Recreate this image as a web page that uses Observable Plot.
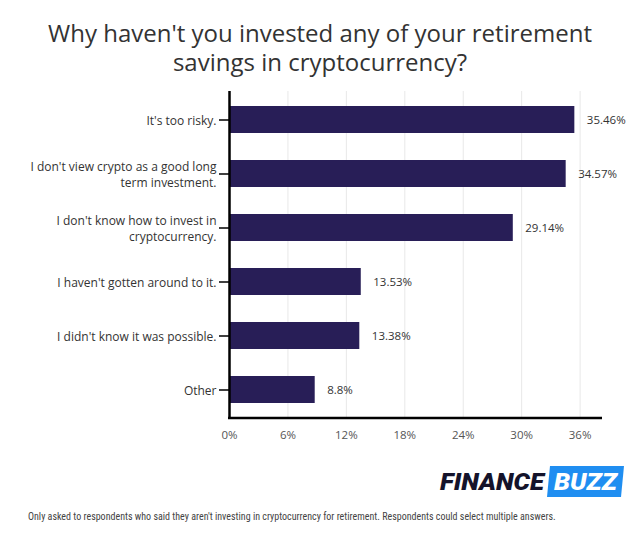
<!DOCTYPE html>
<html>
<head>
<meta charset="utf-8">
<script src="https://cdn.jsdelivr.net/npm/d3@7"></script>
<script src="https://cdn.jsdelivr.net/npm/@observablehq/plot@0.6"></script>
<style>
  body { margin: 0; background: #fff; width: 640px; height: 550px; overflow: hidden; font-family: "Open Sans", sans-serif; }
  #title { position: absolute; top: 18px; left: 0; width: 640px; text-align: center; font-size: 24px; line-height: 29px; color: #333; }
  #chart { position: absolute; top: 80px; left: 0; }
  #logo { position: absolute; top: 466px; left: 438px; height: 31px; display: flex; align-items: center; }
  #footer { position: absolute; top: 511px; left: 28px; font-family: "Liberation Sans Narrow", "Roboto Condensed", Roboto, sans-serif; font-size: 10px; color: #444; white-space: nowrap; }
</style>
</head>
<body>
<div id="title">Why haven't you invested any of your retirement<br>savings in cryptocurrency?</div>
<div id="chart"></div>
<div id="logo"></div>
<div id="footer">Only asked to respondents who said they aren't investing in cryptocurrency for retirement. Respondents could select multiple answers.</div>
<script>
const categories = [
  "It's too risky.",
  "I don't view crypto as a good long term investment.",
  "I don't know how to invest in cryptocurrency.",
  "I haven't gotten around to it.",
  "I didn't know it was possible.",
  "Other"
];
const tickLabels = [
  "It's too risky.",
  "I don't view crypto as a good long\nterm investment.",
  "I don't know how to invest in\ncryptocurrency.",
  "I haven't gotten around to it.",
  "I didn't know it was possible.",
  "Other"
];
const values = [35.46, 34.57, 29.14, 13.53, 13.38, 8.8];
const valueLabels = ["35.46%", "34.57%", "29.14%", "13.53%", "13.38%", "8.8%"];
const xTicks = [0, 6, 12, 18, 24, 30, 36];

const data = categories.map((c, i) => ({cat: c, value: values[i], label: valueLabels[i]}));
const labelOf = new Map(categories.map((c, i) => [c, tickLabels[i]]));
const xMax = 38.3;

const plot = Plot.plot({
  width: 640,
  height: 368,
  marginTop: 11,
  marginBottom: 30,
  marginLeft: 229,
  marginRight: 38,
  style: { fontFamily: "Open Sans, sans-serif", fontSize: "12px", color: "#333", background: "transparent" },
  x: { domain: [0, xMax], ticks: xTicks, tickFormat: d => d + "%", label: null },
  y: { domain: categories, paddingInner: 0.5, paddingOuter: 0.25, label: null },
  marks: [
    Plot.gridX(xTicks, { stroke: "#e8e8e8", strokeOpacity: 1 }),
    Plot.barX(data, { x: "value", y: "cat", fill: "#281e57" }),
    Plot.text(data, { x: "value", y: "cat", text: "label", dx: 12, textAnchor: "start", fill: "#333", fontSize: 11.5 }),
    Plot.axisX({ ticks: xTicks, tickFormat: d => d + "%", tickSize: 0, tickPadding: 12, fill: "#555", fontSize: 11.5 }),
    Plot.axisY({ tickSize: 10, tickPadding: 3, tickFormat: d => labelOf.get(d), fill: "#333", fontSize: 12, lineHeight: 1.35, stroke: "#000", strokeWidth: 1.5 }),
    Plot.ruleX([0], { stroke: "#000", strokeWidth: 2.5 })
  ]
});
document.getElementById("chart").appendChild(plot);

// bottom axis line
const svg = d3.select(plot);
const xs = plot.scale("x");
svg.append("line")
  .attr("x1", xs.apply(0) - 1).attr("x2", xs.apply(xMax))
  .attr("y1", 368 - 30).attr("y2", 368 - 30)
  .attr("stroke", "#000").attr("stroke-width", 2.5);

// logo
document.getElementById("logo").innerHTML = `
<svg width="186" height="31" viewBox="0 0 186 31">
  <text x="2" y="24" font-family="Roboto, sans-serif" font-weight="900" font-style="italic" font-size="23" fill="#14132b" textLength="104" lengthAdjust="spacingAndGlyphs">FINANCE</text>
  <polygon points="112,0 186,0 183,31 109,31" fill="#1f8ef1"/>
  <text x="116" y="24" font-family="Roboto, sans-serif" font-weight="900" font-style="italic" font-size="23" fill="#fff" textLength="63" lengthAdjust="spacingAndGlyphs">BUZZ</text>
</svg>`;
</script>
</body>
</html>
